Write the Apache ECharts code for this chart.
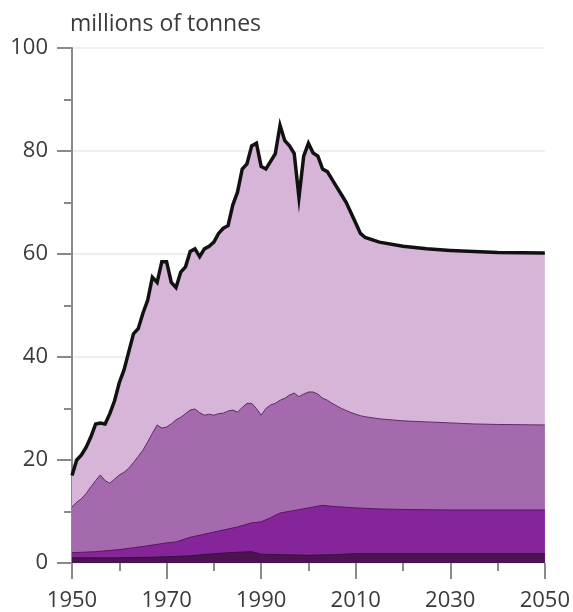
<!DOCTYPE html>
<html>
<head>
<meta charset="utf-8">
<script src="https://cdn.jsdelivr.net/npm/echarts@6/dist/echarts.min.js"></script>
<style>
  html, body { margin: 0; padding: 0; background: #fff; }
  #chart { width: 573px; height: 612px; }
</style>
</head>
<body>
<div id="chart"></div>
<script>
// Stacked boundaries (cumulative, millions of tonnes)
const totalYears = [1950,1951,1952,1953,1954,1955,1956,1957,1958,1959,
  1960,1961,1962,1963,1964,1965,1966,1967,1968,1969,
  1970,1971,1972,1973,1974,1975,1976,1977,1978,1979,
  1980,1981,1982,1983,1984,1985,1986,1987,1988,1989,
  1990,1991,1992,1993,1994,1995,1996,1997,1998,1999,
  2000,2001,2002,2003,2004,2005,2006,2007,2008,2009,
  2010,2011,2012,2015,2020,2025,2030,2035,2040,2050];
const totalValues = [17,20,21,22.5,24.5,27,27.2,27,29,31.5,
  35,37.5,41,44.5,45.5,48.5,51,55.5,54.5,58.5,
  58.5,54.5,53.5,56.5,57.5,60.5,61,59.5,61,61.5,
  62.3,64,65,65.5,69.5,72,76.5,77.5,81,81.5,
  77,76.5,78,79.5,85,82,81,79.5,71,79,
  81.5,79.6,79,76.5,76,74.5,73,71.5,70,68,
  66,64,63.2,62.3,61.5,61,60.7,60.5,60.3,60.2];

const midYears = [1950,1951,1952,1953,1954,1955,1956,1957,1958,1959,
  1960,1961,1962,1963,1964,1965,1966,1967,1968,1969,
  1970,1971,1972,1973,1974,1975,1976,1977,1978,1979,
  1980,1981,1982,1983,1984,1985,1986,1987,1988,1989,
  1990,1991,1992,1993,1994,1995,1996,1997,1998,1999,
  2000,2001,2002,2003,2004,2005,2006,2007,2008,2009,
  2010,2011,2012,2015,2020,2025,2030,2035,2040,2050];
const midValues = [10.9,11.8,12.5,13.5,14.8,16,17.1,16,15.5,16.3,
  17.1,17.6,18.4,19.5,20.7,21.9,23.5,25.2,26.8,26.2,
  26.4,27,27.8,28.3,29,29.7,29.9,29.2,28.7,28.9,
  28.7,29,29.1,29.5,29.7,29.3,30.2,31,31,30,
  28.7,30,30.7,31,31.6,32,32.6,33,32.3,32.8,
  33.2,33.2,32.8,32,31.6,31,30.5,30,29.6,29.2,
  28.9,28.6,28.4,28,27.6,27.4,27.2,27,26.9,26.8];

const lowYears = [1950,1955,1960,1965,1970,1972,1975,1980,1985,1988,1990,1992,1994,1997,2000,2003,2005,2010,2015,2020,2030,2050];
const lowValues = [2.0,2.2,2.6,3.2,3.9,4.1,5.0,6.0,7.0,7.8,8.0,8.8,9.7,10.2,10.7,11.2,11.0,10.7,10.5,10.4,10.3,10.3];

const baseYears = [1950,1960,1970,1975,1980,1985,1988,1990,1995,2000,2005,2010,2050];
const baseValues = [1.0,1.0,1.2,1.4,1.8,2.1,2.2,1.7,1.6,1.5,1.6,1.8,1.8];

const xTicks = [1950, 1970, 1990, 2010, 2030, 2050];

const pairs = (xs, ys) => xs.map((x, i) => [x, ys[i]]);

const chart = echarts.init(document.getElementById('chart'));

function layer(name, data, fill, lineColor, lineWidth) {
  return {
    name: name, type: 'line', data: data, symbol: 'none', silent: true,
    lineStyle: { color: lineColor, width: lineWidth, join: 'miter' },
    areaStyle: { color: fill, opacity: 1 }
  };
}

chart.setOption({
  animation: false,
  textStyle: { fontFamily: 'Open Sans' },
  grid: { left: 72, right: 28, top: 48, bottom: 49 },
  xAxis: {
    type: 'value', min: 1950, max: 2050, interval: 20,
    axisLine: { show: false },
    axisTick: { show: true, length: 16, lineStyle: { color: '#8a8a8a', width: 2 } },
    minorTick: { show: true, splitNumber: 2, length: 8, lineStyle: { color: '#8a8a8a', width: 2 } },
    splitLine: { show: false },
    axisLabel: {
      margin: 27, color: '#3a3a3a', fontSize: 22,
      formatter: v => xTicks.includes(v) ? String(v) : ''
    }
  },
  yAxis: {
    type: 'value', min: 0, max: 100, interval: 20,
    name: 'millions of tonnes', nameLocation: 'end', nameGap: 12,
    nameTextStyle: { color: '#3a3a3a', fontSize: 23, align: 'left', padding: [0, 0, 0, -2] },
    axisLine: { show: true, lineStyle: { color: '#8a8a8a', width: 2 } },
    axisTick: { show: true, length: 15, lineStyle: { color: '#8a8a8a', width: 2 } },
    minorTick: { show: true, splitNumber: 2, length: 8, lineStyle: { color: '#8a8a8a', width: 2 } },
    splitLine: { show: true, lineStyle: { color: '#e8e8e8', width: 1.5 } },
    axisLabel: { margin: 24, color: '#3a3a3a', fontSize: 22 }
  },
  series: [
    layer('total', pairs(totalYears, totalValues), '#d7b5d8', '#111', 3.5),
    layer('mid', pairs(midYears, midValues), '#a56aad', '#5e2c66', 1),
    layer('low', pairs(lowYears, lowValues), '#86259a', '#5a1566', 1),
    layer('base', pairs(baseYears, baseValues), '#4c1352', '#3a0c40', 1)
  ]
});
window.addEventListener('resize', () => chart.resize());
</script>
</body>
</html>
